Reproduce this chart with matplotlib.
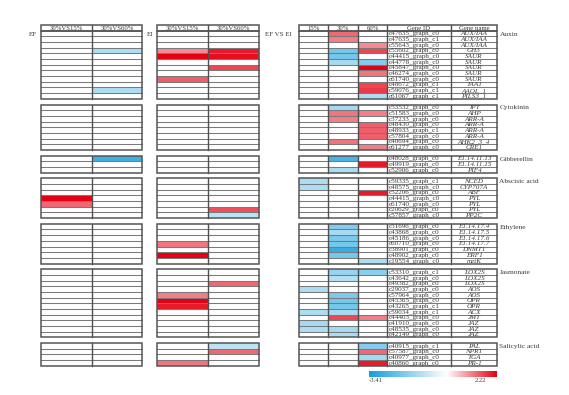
import numpy as np
import matplotlib
matplotlib.use("Agg")
import matplotlib.pyplot as plt
from matplotlib.colors import LinearSegmentedColormap, Normalize
from matplotlib.patches import Rectangle

# ---------------- data ----------------
groups = ["Auxin", "Cytokinin", "Gibberellin", "Abscisic acid", "Ethylene", "Jasmonate", "Salicylic acid"]
group_sizes = [12, 8, 3, 7, 7, 12, 4]

gene_ids = [
    "c47635_graph_c0", "c47635_graph_c1", "c55643_graph_c0", "c55602_graph_c0", "c44415_graph_c0",
    "c44778_graph_c0", "c45847_graph_c0", "c46274_graph_c0", "c61740_graph_c0", "c48672_graph_c1",
    "c59076_graph_c1", "c61067_graph_c1",
    "c53532_graph_c0", "c51583_graph_c0", "c37233_graph_c0", "c48430_graph_c0", "c48933_graph_c1",
    "c57804_graph_c0", "c40694_graph_c0", "c61277_graph_c0",
    "c48028_graph_c0", "c49919_graph_c0", "c52906_graph_c0",
    "c59335_graph_c1", "c48575_graph_c0", "c52206_graph_c0", "c44415_graph_c0", "c61740_graph_c0",
    "c20629_graph_c0", "c57857_graph_c0",
    "c31696_graph_c0", "c43868_graph_c0", "c45186_graph_c0", "c60710_graph_c0", "c38901_graph_c0",
    "c48902_graph_c0", "c19554_graph_c0",
    "c53310_graph_c1", "c43642_graph_c0", "c49382_graph_c0", "c29037_graph_c0", "c57964_graph_c0",
    "c45365_graph_c0", "c43265_graph_c1", "c59034_graph_c1", "c44403_graph_c0", "c41910_graph_c0",
    "c48535_graph_c0", "c42149_graph_c0",
    "c40915_graph_c1", "c57587_graph_c0", "c40977_graph_c0", "c40860_graph_c0",
]
gene_names = [
    "AUX/IAA", "AUX/IAA", "AUX/IAA", "GH3", "SAUR", "SAUR", "SAUR", "SAUR", "SAUR", "TAA1",
    "AAOL_1", "PILS3_1",
    "IPT", "AHP", "ARR-A", "ARR-A", "ARR-A", "ARR-A", "AHK2_3_4", "CRE1",
    "E1.14.11.13", "E1.14.11.15", "PIF4",
    "NCED", "CYP707A", "ABF", "PYL", "PYL", "PYL", "PP2C",
    "E1.14.17.4", "E1.14.17.5", "E1.14.17.6", "E1.14.17.7", "DNMT1", "ERF1", "metK",
    "LOX2S", "LOX2S", "LOX2S", "AOS", "AOS", "OPR", "OPR", "ACX", "JMT", "JAZ", "JAZ", "JAZ",
    "PAL", "NPR1", "TGA", "PR-1",
]

#            Auxin(12)                                    Cytokinin(8)              Gib(3)       ABA(7)                       Ethylene(7)                  Jasmonate(12)                                SA(4)
ef_30v15 = [0,0,0,0,0,0,0,0,0,0,0,0,                       0,0,0,0,0,0,0,0,          0,0,0,       0,0,0,2.2,1.3,0,0,           0,0,0,0,0,0,0,               0,0,0,0,0,0,0,0,0,0,0,0,                     0,0,0,0]
ef_30v60 = [0,0,0,-1.2,0,0,0,0,0,0,-1.2,0,                 0,0,0,0,0,0,0,0,          -2.8,0,0,    0,0,0,0,0,0,0,               0,0,0,0,0,0,0,               0,0,0,0,0,0,0,0,0,0,0,0,                     0,0,0,0]
ei_30v15 = [0,0,0,1.0,2.2,0,0,0,1.4,0,0,0,                 0,0,0,0,0,0,0,0,          0,0,0,       0,0,0,0,0,0,0,               0,0,0,1.2,0,2.2,0,           0,0,0,0,1.1,2.2,2.0,0,0,0,0,0,               0,0,0,1.2]
ei_30v60 = [0,0,0,2.0,2.1,0,1.6,0,0,0,0,0,                 0,0,0,0,0,0,0,0,          0,0,0,       0,0,0,0,0,1.5,-1.0,          0,0,0,0,0,0,0,               0,0,1.3,0,0,0,0,0,0,0,0,0,                   -1.0,1.3,0,0]
efei_15 = [0,0,0,0,0,0,0,0,0,0,0,0,                        0,0,0,0,0,0,0,0,          0,0,0,       -1.2,-1.2,0,0,0,0,0,         0,0,0,0,0,0,0,               0,0,0,-1.2,0,0,0,-1.2,0,-1.3,-1.2,0,         0,0,0,0]
efei_30 = [1.3,1.1,0,-2.0,-2.0,-1.3,0,0,0,0,0,0,           -1.3,1.2,1.1,0,0,0,1.2,0, -2.6,0,-1.2, 0,0,0,0,0,0,0,               -1.8,-1.3,-1.9,-2.0,-2.9,-2.0,0, -1.5,-1.1,0,0,-1.9,-2.0,-2.0,-1.3,1.6,0,-1.3,-1.2, 0,0,0,0]
efei_60 = [0,0,1.0,1.6,0,-1.8,2.2,1.2,0,1.6,1.7,-1.2,      0,1.1,0,1.4,1.4,1.4,0,1.1, 0,2.0,0,     0,0,2.0,0,0,0,0,             0,0,0,0,0,0,-1.2,            -1.7,0,0,0,0,0,0,0,1.1,0,0,0,                -1.8,1.3,-1.3,2.0]

cbar_min, cbar_max = -3.41, 2.22
ef_headers = ["30%VS15%", "30%VS60%"]
ei_headers = ["30%VS15%", "30%VS60%"]
efei_headers = ["15%", "30%", "60%", "Gene ID", "Gene name"]

# ---------------- layout ----------------
W, H = 569, 395
fig = plt.figure(figsize=(W / 100, H / 100), dpi=100)
ax = fig.add_axes([0, 0, 1, 1])
ax.set_xlim(0, W)
ax.set_ylim(H, 0)
ax.axis("off")

zero_frac = -cbar_min / (cbar_max - cbar_min)
cmap = LinearSegmentedColormap.from_list(
    "bwr_custom", [(0, "#139fdd"), (zero_frac, "#ffffff"), (1, "#e60012")])
norm = Normalize(cbar_min, cbar_max)

top = 25.0
rh = 5.68
serif = "Liberation Serif"
grid_c = "#7a7a7a"
border_c = "#555555"
txt_c = "#3a3a3a"

ef_x = [41, 92, 142]
ei_x = [157, 208, 259]
rt_x = [299, 328, 358, 387, 451, 497]

ef_vals = np.array([ef_30v15, ef_30v60]).T
ei_vals = np.array([ei_30v15, ei_30v60]).T
rt_vals = np.array([efei_15, efei_30, efei_60]).T

starts = []
r = 0
for gi, n in enumerate(group_sizes):
    y0 = top + rh * (1 + r + gi)
    starts.append((r, n, y0))
    r += n


def draw_grid(xe, ye, lw_v=1.0):
    for y in ye[1:-1]:
        ax.plot([xe[0], xe[-1]], [y, y], color=grid_c, lw=0.75, zorder=3)
    for x in xe[1:-1]:
        ax.plot([x, x], [ye[0], ye[-1]], color="#505050", lw=lw_v, zorder=4)
    ax.add_patch(Rectangle((xe[0], ye[0]), xe[-1] - xe[0], ye[-1] - ye[0],
                           fill=False, ec=border_c, lw=1.1, zorder=5))


for xe, hdrs in [(ef_x, ef_headers), (ei_x, ei_headers), (rt_x, efei_headers)]:
    ye = np.array([top, top + rh])
    draw_grid(xe, ye)
    for i, t in enumerate(hdrs):
        ax.text((xe[i] + xe[i + 1]) / 2, top + rh / 2 + 0.3, t, ha="center", va="center",
                fontsize=4.9, family=serif, color=txt_c, zorder=6)

for (r0, n, y0), gname in zip(starts, groups):
    ye = y0 + rh * np.arange(n + 1)
    for xe, vals in [(ef_x, ef_vals), (ei_x, ei_vals), (rt_x[:4], rt_vals)]:
        ax.pcolormesh(xe, ye, vals[r0:r0 + n], cmap=cmap, norm=norm, zorder=1)
    draw_grid(ef_x, ye)
    draw_grid(ei_x, ye)
    draw_grid(rt_x, ye)
    for k in range(n):
        yc = ye[k] + rh / 2 + 0.3
        ax.text(rt_x[3] + 1.5, yc, gene_ids[r0 + k], ha="left", va="center",
                fontsize=5.1, family=serif, color=txt_c, zorder=6)
        ax.text((rt_x[4] + rt_x[5]) / 2, yc, gene_names[r0 + k], ha="center", va="center",
                fontsize=5.1, family=serif, style="italic", color=txt_c, zorder=6)
    ax.text(rt_x[5] + 2.5, y0 + rh * 0.6, gname, ha="left", va="center",
            fontsize=5.3, family=serif, color=txt_c)

ax.text(33, 34, "EF", ha="center", va="center", fontsize=5, family=serif, color=txt_c)
ax.text(150, 34, "EI", ha="center", va="center", fontsize=5, family=serif, color=txt_c)
ax.text(278, 34, "EF VS EI", ha="center", va="center", fontsize=5, family=serif, color=txt_c)

cax = fig.add_axes([369 / W, 1 - 377 / H, 128 / W, 6 / H])
grad = np.linspace(cbar_min, cbar_max, 256).reshape(1, -1)
cax.imshow(grad, aspect="auto", cmap=cmap, norm=norm,
           extent=[cbar_min, cbar_max, 0, 1])
cax.axis("off")
ax.text(369, 380.5, f"{cbar_min:.2f}", ha="left", va="center", fontsize=4.8, family=serif, color=txt_c)
ax.text(480, 380.5, f"{cbar_max:.2f}", ha="center", va="center", fontsize=4.8, family=serif, color=txt_c)

fig.savefig("out.png", dpi=100, facecolor="white")
